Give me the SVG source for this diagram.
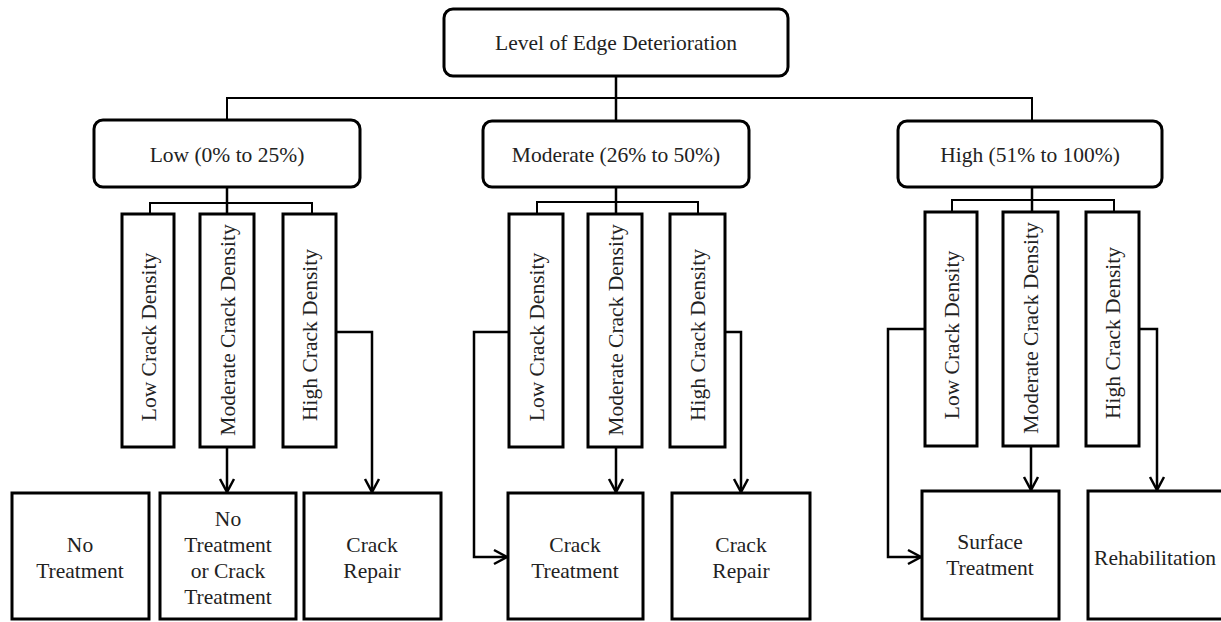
<svg xmlns="http://www.w3.org/2000/svg" width="1221" height="622" viewBox="0 0 1221 622">
<style>
.rbox{fill:#fff;stroke:#000;stroke-width:3}
.box{fill:#fff;stroke:#000;stroke-width:3}
.t{font-family:"Liberation Serif","Times New Roman",serif;font-size:21.5px;fill:#222;text-anchor:middle}
.c{fill:none;stroke:#000;stroke-width:2.5}
.bus{fill:none;stroke:#000;stroke-width:2}
.a{marker-end:url(#arr)}
</style>
<defs>
<marker id="arr" markerUnits="userSpaceOnUse" markerWidth="20" markerHeight="20" viewBox="-15 -10 17 20" refX="0" refY="0" orient="auto" overflow="visible">
<path d="M-13,-7 L0,0 L-13,7" fill="none" stroke="#000" stroke-width="2.5"/>
</marker>
</defs>
<rect width="1221" height="622" fill="#fff"/>
<g id="connectors">
<path class="bus" d="M227,120 V98 H1032 V121"/>
<path class="c" d="M616,76 V121"/>
<path class="bus" d="M150,214 V203 H312 V214"/>
<path class="c" d="M227,187 V214"/>
<path class="bus" d="M537,214 V202 H698 V214"/>
<path class="c" d="M616,187 V214"/>
<path class="bus" d="M952,212 V200 H1114 V212"/>
<path class="c" d="M1032,187 V212"/>
<path class="c a" d="M227,447 V492"/>
<path class="c a" d="M336,332 H372 V492"/>
<path class="c a" d="M509,332 H474 V557 H507"/>
<path class="c a" d="M616,447 V492"/>
<path class="c a" d="M725,332 H741 V492"/>
<path class="c a" d="M925,329 H888 V557 H921"/>
<path class="c a" d="M1031,446 V490"/>
<path class="c a" d="M1139,329 H1157 V490"/>
</g>
<g id="root"><rect class="rbox" x="444" y="9" width="344" height="67" rx="9"/><text class="t" x="616" y="50">Level of Edge Deterioration</text></g>
<g id="low"><rect class="rbox" x="94" y="120" width="266" height="67" rx="9"/><text class="t" x="227" y="162">Low (0% to 25%)</text></g>
<g id="moderate"><rect class="rbox" x="483" y="121" width="266" height="66" rx="9"/><text class="t" x="616" y="162">Moderate (26% to 50%)</text></g>
<g id="high"><rect class="rbox" x="898" y="121" width="264" height="66" rx="9"/><text class="t" x="1030" y="162">High (51% to 100%)</text></g>

<g id="low-lcd"><rect class="box" x="122" y="214" width="52" height="233"/><text class="t" transform="translate(156,337) rotate(-90)">Low Crack Density</text></g>
<g id="low-mcd"><rect class="box" x="200" y="214" width="54" height="233"/><text class="t" transform="translate(235,330) rotate(-90)">Moderate Crack Density</text></g>
<g id="low-hcd"><rect class="box" x="283" y="214" width="53" height="233"/><text class="t" transform="translate(317,335) rotate(-90)">High Crack Density</text></g>

<g id="mod-lcd"><rect class="box" x="509" y="214" width="54" height="233"/><text class="t" transform="translate(544,337) rotate(-90)">Low Crack Density</text></g>
<g id="mod-mcd"><rect class="box" x="588" y="214" width="54" height="233"/><text class="t" transform="translate(623,330) rotate(-90)">Moderate Crack Density</text></g>
<g id="mod-hcd"><rect class="box" x="670" y="214" width="55" height="233"/><text class="t" transform="translate(705,335) rotate(-90)">High Crack Density</text></g>

<g id="high-lcd"><rect class="box" x="925" y="212" width="52" height="234"/><text class="t" transform="translate(959,335) rotate(-90)">Low Crack Density</text></g>
<g id="high-mcd"><rect class="box" x="1003" y="212" width="55" height="234"/><text class="t" transform="translate(1038,328) rotate(-90)">Moderate Crack Density</text></g>
<g id="high-hcd"><rect class="box" x="1086" y="212" width="53" height="234"/><text class="t" transform="translate(1120,333) rotate(-90)">High Crack Density</text></g>

<g id="no-treatment"><rect class="box" x="12" y="493" width="137" height="126"/><text class="t" x="80" y="552">No</text><text class="t" x="80" y="578">Treatment</text></g>
<g id="no-or-crack"><rect class="box" x="160" y="493" width="136" height="126"/><text class="t" x="228" y="526">No</text><text class="t" x="228" y="552">Treatment</text><text class="t" x="228" y="578">or Crack</text><text class="t" x="228" y="604">Treatment</text></g>
<g id="crack-repair-low"><rect class="box" x="304" y="493" width="137" height="126"/><text class="t" x="372" y="552">Crack</text><text class="t" x="372" y="578">Repair</text></g>
<g id="crack-treatment"><rect class="box" x="508" y="493" width="135" height="126"/><text class="t" x="575" y="552">Crack</text><text class="t" x="575" y="578">Treatment</text></g>
<g id="crack-repair-mod"><rect class="box" x="672" y="493" width="138" height="126"/><text class="t" x="741" y="552">Crack</text><text class="t" x="741" y="578">Repair</text></g>
<g id="surface-treatment"><rect class="box" x="922" y="491" width="137" height="128"/><text class="t" x="990" y="549">Surface</text><text class="t" x="990" y="575">Treatment</text></g>
<g id="rehabilitation"><rect class="box" x="1088" y="491" width="140" height="128"/><text class="t" x="1155" y="565">Rehabilitation</text></g>
</svg>
